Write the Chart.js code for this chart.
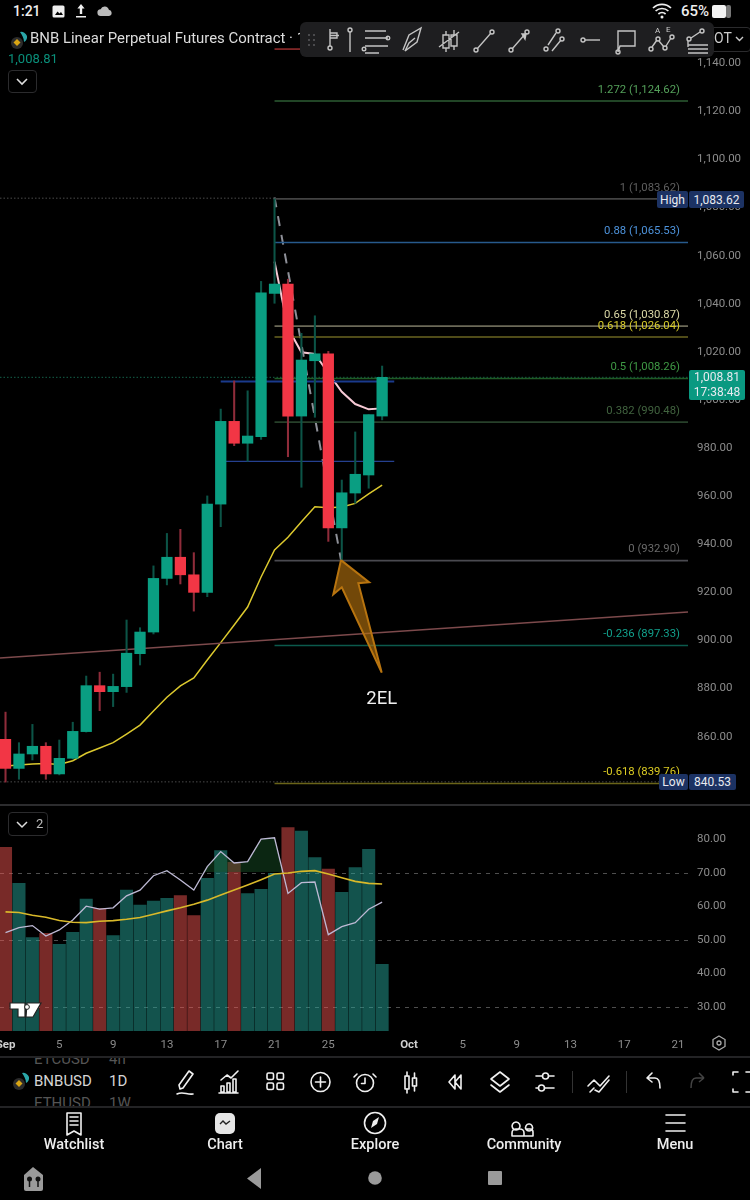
<!DOCTYPE html>
<html><head><meta charset="utf-8">
<script src="https://cdn.jsdelivr.net/npm/chart.js@4"></script>
<style>
html,body{margin:0;padding:0;background:#000;width:750px;height:1200px;overflow:hidden;font-family:Roboto,sans-serif;color:#ddd}
canvas{position:absolute;left:0;display:block}
.t{position:absolute;white-space:nowrap;line-height:1}
.tag{position:absolute;background:#1c3263;color:#e8eaf0;font-size:12px;display:flex;align-items:center;justify-content:center;border-radius:2px}
svg{position:absolute;overflow:visible}
svg .s{fill:none;stroke:#c4c4c4;stroke-width:1.4}
svg .w{fill:none;stroke:#f0f0f0;stroke-width:1.6;stroke-linecap:round;stroke-linejoin:round}
svg .g{fill:#f0f0f0;stroke:none}
</style></head><body>
<canvas id="price" width="750" height="776" style="top:28px"></canvas>
<canvas id="osc" width="750" height="250" style="top:806px"></canvas>
<div style="position:absolute;left:0;top:804px;width:750px;height:1.5px;background:#2c2c2e"></div>
<div style="position:absolute;left:0;top:1056px;width:750px;height:1.5px;background:#232325"></div>
<div style="position:absolute;left:0;top:1106px;width:750px;height:1.5px;background:#232325"></div>

<!-- status bar -->
<div class="t" style="left:13px;top:4px;font-size:14px;font-weight:500;color:#eee">1:21</div>
<svg style="left:52px;top:5px" width="14" height="14"><rect x="0.5" y="0.5" width="12" height="12" rx="1.5" fill="#eee"/><path d="M3 10l2.5-3.5 2 2 1.5-1.5 2 3z" fill="#000"/></svg>
<svg style="left:74px;top:3px" width="14" height="16"><path d="M7 1l-3.6 4.4h2.4v5.6h2.4v-5.6h2.4zM2 13h10v1.5h-10z" fill="#eee"/></svg>
<svg style="left:97px;top:5px" width="16" height="12"><path d="M4 11a3.4 3.4 0 0 1-.4-6.8 4.4 4.4 0 0 1 8.3.5 3.2 3.2 0 0 1 .2 6.3z" fill="#bbb"/></svg>
<svg style="left:652px;top:3px" width="20" height="16"><path d="M1 5a13 13 0 0 1 18 0M3.6 8a9.4 9.4 0 0 1 12.8 0M6.4 11a5.4 5.4 0 0 1 7.2 0" fill="none" stroke="#eee" stroke-width="1.7"/><circle cx="10" cy="14" r="1.5" fill="#eee"/></svg>
<div class="t" style="left:681px;top:4px;font-size:15px;font-weight:500;color:#eee">65%</div>
<svg style="left:712px;top:5px" width="22" height="13"><rect x="0" y="0" width="14" height="13" rx="2" fill="#f2f2f2"/><rect x="14" y="0" width="5" height="13" rx="2" fill="#777"/></svg>

<!-- header -->
<svg style="left:8px;top:28px" width="22" height="22"><circle cx="9" cy="15" r="6" fill="#2b2b2b"/><path d="M9 11l3.5 3.5L9 18l-3.5-3.5z" fill="#d9a514"/><path d="M12 4a6 6 0 0 1 7 4 6 6 0 0 1-3 6c0-4-2-7-4-10z" fill="#2aa6a8"/></svg>
<div class="t" style="left:29.5px;top:30px;font-size:15.5px;color:#dcdcdc;line-height:17px;transform:scaleX(.963);transform-origin:left center">BNB Linear Perpetual Futures Contract · 1D</div>
<div class="t" style="left:8px;top:52px;font-size:13px;color:#0a8f7a">1,008.81</div>
<div style="position:absolute;left:8px;top:70px;width:27px;height:21px;border:1px solid #2b2b2d;border-radius:4px"></div>
<svg style="left:8px;top:70px" width="28" height="22"><path d="M9 9l5 5 5-5" fill="none" stroke="#ddd" stroke-width="1.6"/></svg>
<div style="position:absolute;left:700px;top:27px;width:49px;height:23px;border:1px solid #2b2b2d;border-radius:4px"></div>
<div class="t" style="left:714px;top:31px;font-size:14px;color:#ccc">OT</div>
<svg style="left:735px;top:34px" width="10" height="10"><path d="M1 3l3.5 3.5L8 3" fill="none" stroke="#ccc" stroke-width="1.4"/></svg>

<!-- drawing toolbar -->
<div style="position:absolute;left:300px;top:22px;width:414px;height:35px;background:#1e1e20;border-radius:6px"></div>
<svg style="left:300px;top:22px" width="414" height="35">
<g fill="#5a5a5c"><circle cx="9" cy="13" r="1"/><circle cx="14" cy="13" r="1"/><circle cx="9" cy="18" r="1"/><circle cx="14" cy="18" r="1"/><circle cx="9" cy="23" r="1"/><circle cx="14" cy="23" r="1"/></g>
<g class="s"><path d="M30 7v17M30 11h7v5h-7M30 13.5h9"/><circle cx="30" cy="26" r="2"/><path d="M50 10v20"/><circle cx="50" cy="8" r="2"/>
<path d="M65 9h21M65 16h23M65 24h23M65 31h14"/><circle cx="88" cy="16" r="1.8"/><circle cx="64" cy="27" r="1.8"/>
<path d="M103 28l6-15 12-7-4 14-12 9 4-8 6-5"/>
<path d="M146 9v4M146 26v4M154 8v5M154 24v4M143 13h6v13h-6zM151 13h6v11h-6zM139 25l20-15"/>
<circle cx="176" cy="28" r="2"/><circle cx="192" cy="10" r="2"/><path d="M177 27l14-16"/>
<circle cx="211" cy="28" r="2"/><circle cx="227" cy="10" r="2"/><path d="M212 27l14-16"/><path d="M222 12l4 0-1 5z" fill="#ccc"/>
<circle cx="246" cy="27" r="2"/><circle cx="262" cy="17" r="2"/><circle cx="258" cy="9" r="2"/><path d="M248 23l8-12M252 29l9-11"/>
<circle cx="283" cy="18" r="2"/><path d="M285 18h15"/>
<path d="M318 9h17v15h-15l-2 6z"/><circle cx="318" cy="30" r="2"/>
<circle cx="351" cy="27" r="2"/><circle cx="358" cy="17" r="2"/><circle cx="365" cy="26" r="2"/><circle cx="372" cy="15" r="2"/><path d="M352 25l5-7M359 19l5 6M366 24l5-8"/>
<circle cx="389" cy="17" r="2"/><circle cx="402" cy="9" r="2"/><path d="M391 16l9-6M388 19v6M388 27h20M388 31h20M388 23h20"/></g>
</svg>
<svg style="left:645px;top:24px" width="30" height="12"><text x="10" y="9" font-size="8" fill="#ccc" font-family="Roboto">A</text><text x="21" y="8" font-size="8" fill="#ccc" font-family="Roboto">E</text></svg>

<!-- price tags -->
<div class="tag" style="left:657px;top:191px;width:31px;height:17px">High</div>
<div class="tag" style="left:689px;top:191px;width:55px;height:17px">1,083.62</div>
<div class="tag" style="left:659px;top:774px;width:29px;height:16px">Low</div>
<div class="tag" style="left:689px;top:774px;width:47px;height:16px">840.53</div>
<div class="tag" style="left:689px;top:370px;width:56px;height:30px;background:#0a9981;flex-direction:column;gap:2px;font-size:12px;line-height:13px"><span>1,008.81</span><span>17:38:48</span></div>

<!-- indicator pane -->
<div style="position:absolute;left:8px;top:812px;width:38px;height:22px;border:1px solid #2b2b2d;border-radius:4px"></div>
<svg style="left:8px;top:812px" width="22" height="22"><path d="M9 10l5 5 5-5" fill="none" stroke="#ddd" stroke-width="1.5"/></svg>
<div class="t" style="left:36px;top:817px;font-size:13px;color:#bbb">2</div>
<svg style="left:10px;top:1002px" width="32" height="17"><path d="M0 1h15v14h-7V7H0zM17 1h14l-8 14h-7z" fill="#fff" stroke="#222" stroke-width="1.2"/><circle cx="17" cy="5" r="2.4" fill="#fff" stroke="#222"/></svg>
<svg style="left:711px;top:1035px" width="16" height="16"><path d="M8 1l6 3.5v7L8 15l-6-3.5v-7z" fill="none" stroke="#aaa" stroke-width="1.3"/><circle cx="8" cy="8" r="2" fill="none" stroke="#aaa" stroke-width="1.3"/></svg>

<!-- symbol row -->
<div style="position:absolute;left:0;top:1057.5px;width:180px;height:48px;overflow:hidden">
<div class="t" style="left:34px;top:-6px;font-size:15px;color:#555">ETCUSD</div><div class="t" style="left:109px;top:-6px;font-size:15px;color:#555">4h</div>
<div class="t" style="left:34px;top:16.5px;font-size:15px;color:#d4d4d4">BNBUSD</div><div class="t" style="left:109px;top:16.5px;font-size:15px;color:#d4d4d4">1D</div>
<div class="t" style="left:34px;top:38px;font-size:15px;color:#555">ETHUSD</div><div class="t" style="left:109px;top:38px;font-size:15px;color:#555">1W</div>
</div>
<svg style="left:11px;top:1070px" width="22" height="22"><circle cx="8" cy="14" r="6" fill="#2b2b2b"/><path d="M8 10l3.5 3.5L8 17l-3.5-3.5z" fill="#d9a514"/><path d="M11 3a6 6 0 0 1 7 4 6 6 0 0 1-3 6c0-4-2-7-4-10z" fill="#2aa6a8"/></svg>
<svg style="left:0;top:1066px" width="750" height="32"><g class="w">
<path d="M180 23l-1-4 10-14 4 3-10 14zM177 28c6-3 10 1 16 0"/>
<path d="M221 26v-6h3v6zM227 26v-9h3v9zM233 26v-13h3v13zM221 14l6-5 4 3 7-7M219 27h19"/>
<rect x="267" y="7" width="6.5" height="6.5" rx="1.5"/><rect x="277" y="7" width="6.5" height="6.5" rx="1.5"/><rect x="267" y="17" width="6.5" height="6.5" rx="1.5"/><rect x="277" y="17" width="6.5" height="6.5" rx="1.5"/>
<circle cx="320.500" cy="16" r="9.500"/><path d="M320.500 11v10M315.500 16h10"/>
<circle cx="365" cy="17" r="8.500"/><path d="M365 12v5.500h-3.500M357 8l-3 3M373 8l3 3"/>
<rect x="405" y="10" width="4" height="13"/><rect x="412.500" y="12" width="4" height="8"/><path d="M407 6v4M407 23v4M414.500 7v5M414.500 20v5"/>
<path d="M455 9l-6 7 6 7zM461 9l-6 7 6 7z"/>
<path d="M500 6l9 7-9 7-9-7zM491 19l9 7 9-7"/>
<path d="M536 10h6M549 10h5M536 22h2M545 22h9"/><circle cx="545.500" cy="10" r="3"/><circle cx="541.500" cy="22" r="3"/>
<path d="M588 20l6-6 6 6 9-10M590 26l4-4M595 24l4 2 10-12"/>
<path d="M647 12l5-5M647 12l5 4M647 12h8c4 0 5 4 5 10"/>
<path d="M733 9v-3h5M733 23v3h5M746 6h4M746 26h4"/>
</g><path d="M692 12l5-5M692 12l5 4M692 12h8c4 0 5 4 5 10" fill="none" stroke="#444" stroke-width="1.5" transform="matrix(-1 0 0 1 1396 0)"/></svg>
<div style="position:absolute;left:572px;top:1071px;width:1px;height:22px;background:#333"></div>
<div style="position:absolute;left:626px;top:1071px;width:1px;height:22px;background:#333"></div>

<!-- nav -->
<svg style="left:0;top:1110px" width="750" height="26">
<path class="w" d="M67 3h14v22l-7-4-7 4zM70 7h8M70 11h8M70 15h8" stroke-width="1.5"/>
<rect x="215" y="3" width="20" height="21" rx="5" fill="#e6e6e6"/><path d="M220 14l3-3 3 3 4-3" fill="none" stroke="#222" stroke-width="1.4"/>
<circle class="w" cx="375" cy="13" r="10.500"/><path d="M371 18l2-7 6-4-2 7z" fill="#eee"/>
<path class="w" d="M516 12a4 4 0 1 0 .1 0zM529 14a3.500 3.500 0 1 0 .1 0M512 26v-3a4 4 0 0 1 4-4h4a4 4 0 0 1 4 4v3zM527 19h3a3 3 0 0 1 3 3v4h-9"/>
<path class="w" d="M666 5h19M666 13h19M666 21h19" stroke-width="2"/>
</svg>
<div class="t" style="left:74px;top:1137.5px;transform:translateX(-50%);font-size:14.5px;font-weight:500;color:#eee">Watchlist</div>
<div class="t" style="left:225px;top:1137.5px;transform:translateX(-50%);font-size:14.5px;font-weight:500;color:#eee">Chart</div>
<div class="t" style="left:375px;top:1137.5px;transform:translateX(-50%);font-size:14.5px;font-weight:500;color:#eee">Explore</div>
<div class="t" style="left:524px;top:1137.5px;transform:translateX(-50%);font-size:14.5px;font-weight:500;color:#eee">Community</div>
<div class="t" style="left:675px;top:1137.5px;transform:translateX(-50%);font-size:14.5px;font-weight:500;color:#eee">Menu</div>
<svg style="left:0;top:1165px" width="750" height="26">
<path d="M24 10l9-8 10 8v14a2 2 0 0 1-2 2H26a2 2 0 0 1-2-2z" fill="#9a9a9a"/><circle cx="29.500" cy="14" r="2.500" fill="#111"/><circle cx="38" cy="14" r="2.500" fill="#111"/><path d="M29.500 14v8M38 14v8" stroke="#111" stroke-width="1.500"/>
<path d="M261 3v21l-14-10.500z" fill="#9a9a9a"/><circle cx="375" cy="13" r="6.800" fill="#9a9a9a"/><rect x="488" y="6" width="14" height="14" rx="1" fill="#9a9a9a"/>
</svg>

<script>
/* ---------- data ---------- */
const days   = [0,1,2,3,4,5,6,7,8,9,10,11,12,13,14,15,16,17,18,19,20,21,22,23,24,25,26,27,28];
const opens  = [858.3,846.2,852.2,855.4,843.9,850.4,861.5,880.6,878.1,880.2,893.9,902.9,925.2,934,926.7,919.4,956.1,990.5,981.4,984.1,1043.7,1047.6,992.7,1015.7,1018.6,946.2,960.7,968.2,992.7];
const closes = [846.2,852.2,855.4,843.9,850.4,861.6,880.6,878.1,880.3,894.1,902.9,925.2,934,926.7,919.4,956.1,990.5,981.4,984.4,1043.9,1047.6,992.7,1016,1018.6,946.2,960.8,968.5,993.3,1008.81];
const highs  = [869.6,856.9,864.5,856.9,858,865.4,884.6,886.2,885.4,907.9,904.7,930.4,943.9,945.6,935.9,959.5,995.6,1007.3,1003.2,1048.7,1083,1049.6,1027.1,1034.4,1019.6,966.1,986.1,993.3,1013.5];
const lows   = [840.5,841.7,849.7,841.7,843.5,850.1,861.3,870.2,871.9,877.8,889.2,902.1,922.5,922.9,911.6,917.6,946.7,980.4,973.9,983,1039.6,975.8,963.1,992.2,940.6,932.8,956.4,962.7,991.1];
const maSlow = [847.2,847.6,848,848.2,847.8,849.4,852.5,854.7,856.9,860.5,864.2,870.1,875.8,880.5,883.8,891.3,898.5,905.8,913.3,925.8,937,942.3,948.8,955,954.6,954.9,956.4,960.3,964];
const maFastDays = [20,21,22,23,24,25,26,27,28];
const maFast = [1056.9,1029.3,1019.2,1018.5,1010.6,1002.8,997.7,995.5,995.9];
const volume = [183.7,147.7,93.3,97.7,86.7,98.7,132,122.7,95.3,141,126,130,132.7,135.3,115.3,152.7,180.3,168.7,137.3,141.7,157.7,203.3,200,173.3,162,138.7,163.3,181.7,66.7];
const rsi    = [51.9,53.4,54,50.9,52.7,55.7,59.8,58.9,59.3,62.9,64.6,68.9,70.4,67.6,64.6,71.6,76.1,72.7,73.1,79.8,80.2,63.6,66.8,67,51.3,53.7,54.9,58.9,61];
const rsiMa  = [58.1,57.9,57.1,56.5,55.5,55,54.9,55.3,55.5,55.9,56.4,57.4,58.4,59.3,60.4,61.6,63.1,64.6,66.1,67.7,69.4,69.7,70.2,70.4,69.4,68.3,67.2,66.6,66.4];
const priceTicks = [860,880,900,920,940,960,980,1000,1020,1040,1060,1080,1100,1120,1140];
const rsiTicks   = [30,40,50,60,70,80];
const rsiBands   = [30,50,70];
const timeTicks  = [0,4,8,12,16,20,24,30,34,38,42,46,50];
const timeLabels = ['Sep','5','9','13','17','21','25','Oct','5','9','13','17','21'];
const fibLevels  = [1123.7,1083,1064.9,1030.1,1025.6,1008.3,990.2,932.6,897.3,839.9];
const fibLabels  = ['1.272 (1,124.62)','1 (1,083.62)','0.88 (1,065.53)','0.65 (1,030.87)','0.618 (1,026.04)','0.5 (1,008.26)','0.382 (990.48)','0 (932.90)','-0.236 (897.33)','-0.618 (839.76)'];
const fibLine    = ['#2d5c33','#434343','#275a8c','#6c6a58','#6a6420','#1f5a25','#27402a','#4a4a50','#0b5a4c','#6a6418'];
const fibText    = ['#54a05a','#5f5f5f','#4d93dc','#dcd9a6','#d8cc2c','#3f9a45','#41633f','#6a6a6a','#12a08c','#dccc22'];
const swingX = [20,24.94], swingY = [1083.6,932.9];
const arrowX = [24.94,27.03,26.23,27.97,25,24.37,24.94], arrowY = [932.8,923.6,923.2,886,921.5,918.6,932.8];
const trendX = [-0.41,50.74], trendY = [892.1,911.2];
const segX = [20,21.97], segY = [1145.3,1145.3];
const bandsX = [16,28.9], bandTop = 1007.1, bandLow = 973.9;
const lastPrice = 1008.81, highPrice = 1083.3, lowPrice = 840.6;
const noteText = '2EL', noteX = 27.97, noteY = 875;

/* ---------- shared scale settings ---------- */
const xMin = -0.41, xMax = 50.74;
const yMin = 831.4, yMax = 1154.06;
const oscMin = 22.54, oscMax = 89.7;
const priceNudge = 0.6, oscNudge = 0.3;   // lines tick text up with the picture's labels
const AXIS = '#8c8c8c';
const UP = '#0a9e82', DOWN = '#f23645', UPW = '#0c5447', DOWNW = '#8f2c3a';
const up = i => closes[i] >= opens[i];
const money = v => v.toLocaleString('en-US',{minimumFractionDigits:2,maximumFractionDigits:2});
const seg = (xs,ys) => xs.map((x,i)=>({x,y:ys[i]}));
const line = (data,color,width,extra) => Object.assign({type:'line',data,borderColor:color,borderWidth:width,pointRadius:0,tension:0,fill:false,order:10},extra||{});

const labelPlugin = {
  id:'labels',
  afterDatasetsDraw(c){
    const g=c.ctx, ys=c.scales.y, xs=c.scales.x;
    g.save();
    g.textAlign='right'; g.textBaseline='middle'; g.font='11.3px Roboto';
    fibLabels.forEach((t,i)=>{ g.fillStyle=fibText[i]; g.fillText(t,680,ys.getPixelForValue(fibLevels[i])-11); });
    g.textAlign='center'; g.fillStyle='#f0f0f0'; g.font='18.5px Roboto';
    g.fillText(noteText,xs.getPixelForValue(noteX),ys.getPixelForValue(noteY));
    g.restore();
  }
};

const priceSets = [
  ...fibLevels.map((v,i)=>line(seg([20,xMax],[v,v]),fibLine[i],1.6)),
  line(seg([xMin,xMax],[lastPrice,lastPrice]),'#14604a',1,{borderDash:[1.5,2]}),
  line(seg([xMin,20],[highPrice,highPrice]),'#4a4a4a',1,{borderDash:[1.5,2]}),
  line(seg([xMin,xMax],[lowPrice,lowPrice]),'#4a4a4a',1,{borderDash:[1.5,2]}),
  line(seg(bandsX,[bandTop,bandTop]),'#1a3a8c',2),
  line(seg(bandsX,[bandLow,bandLow]),'#25408f',1.2),
  line(seg(trendX,trendY),'#7d4a4c',1.5),
  line(seg(segX,segY),'#9a2f2f',1.5),
  line(seg(swingX,swingY),'#8e9098',2,{borderDash:[10,9]}),
  line(maSlow.map((y,i)=>({x:days[i],y})),'#dcc92e',1.5),
  line(maFastDays.map((x,i)=>({x,y:maFast[i]})),'#f6c9d4',2),
  line(seg(arrowX,arrowY),'#b8740f',2,{fill:'shape',backgroundColor:'rgba(184,116,15,0.62)',order:0}),
  {type:'bar',data:days.map(i=>({x:i,y:[lows[i],highs[i]]})),backgroundColor:days.map(i=>up(i)?UPW:DOWNW),barThickness:1.4,grouped:false,order:2},
  {type:'bar',data:days.map(i=>({x:i,y:[Math.min(opens[i],closes[i]),Math.max(opens[i],closes[i])]})),backgroundColor:days.map(i=>up(i)?UP:DOWN),barThickness:10.6,grouped:false,order:1}
];

new Chart(document.getElementById('price'),{
  data:{datasets:priceSets},
  plugins:[labelPlugin],
  options:{
    responsive:false,animation:false,events:[],
    layout:{padding:0},
    plugins:{legend:{display:false},tooltip:{enabled:false}},
    scales:{
      x:{type:'linear',min:xMin,max:xMax,display:false,offset:false},
      y:{type:'linear',position:'right',min:yMin,max:yMax,offset:false,
        afterFit(s){s.width=62;s.paddingTop=0;s.paddingBottom=0},
        afterBuildTicks(s){s.ticks=priceTicks.map(v=>({value:v-priceNudge}))},
        grid:{display:false,drawTicks:false},border:{display:false},
        ticks:{color:AXIS,font:{family:'Roboto',size:11.5},padding:9,callback:v=>money(v+priceNudge)}}
    }
  }
});

new Chart(document.getElementById('osc'),{
  data:{datasets:[
    {type:'bar',yAxisID:'v',data:days.map(i=>({x:i,y:volume[i]})),backgroundColor:days.map(i=>up(i)?'rgba(38,166,154,0.5)':'rgba(239,83,80,0.5)'),barThickness:12.4,grouped:false,order:5},
    {type:'line',yAxisID:'y',data:days.map(i=>({x:i,y:rsi[i]})),borderColor:'#bdb9d4',borderWidth:1.3,pointRadius:0,tension:0,order:2,
      fill:{target:{value:70},above:'rgba(24,84,40,0.45)',below:'rgba(0,0,0,0)'}},
    {type:'line',yAxisID:'y',data:days.map(i=>({x:i,y:rsiMa[i]})),borderColor:'#d9b92a',borderWidth:1.6,pointRadius:0,tension:0,fill:false,order:1}
  ]},
  options:{
    responsive:false,animation:false,events:[],
    layout:{padding:0},
    plugins:{legend:{display:false},tooltip:{enabled:false}},
    scales:{
      x:{type:'linear',min:xMin,max:xMax,offset:false,
        afterBuildTicks(s){s.ticks=timeTicks.map(value=>({value}))},
        afterFit(s){s.height=25;s.paddingLeft=0;s.paddingRight=0},
        grid:{display:false,drawTicks:false,offset:false},border:{display:false},
        ticks:{autoSkip:false,maxRotation:0,minRotation:0,padding:7,
          color:c=>(timeLabels[c.index]==='Oct'||timeLabels[c.index]==='Sep')?'#cfcfcf':AXIS,
          font:c=>({family:'Roboto',size:11.5,weight:(timeLabels[c.index]==='Oct'||timeLabels[c.index]==='Sep')?'700':'400'}),
          callback:(v,i)=>timeLabels[i]}},
      y:{type:'linear',position:'right',min:oscMin,max:oscMax,offset:false,
        afterFit(s){s.width=62;s.paddingTop=0;s.paddingBottom=0},
        afterBuildTicks(s){s.ticks=rsiTicks.map(v=>({value:v-oscNudge}))},
        grid:{drawTicks:false,lineWidth:1,color:c=>rsiBands.includes(Math.round(c.tick.value+oscNudge))?'#4e4e4e':'rgba(0,0,0,0)'},
        border:{display:false,dash:[4,5]},
        ticks:{color:AXIS,font:{family:'Roboto',size:11.5},padding:9,callback:v=>(v+oscNudge).toFixed(2)}},
      v:{type:'linear',display:false,min:0,max:225,offset:false}
    }
  }
});
</script>
</body></html>
